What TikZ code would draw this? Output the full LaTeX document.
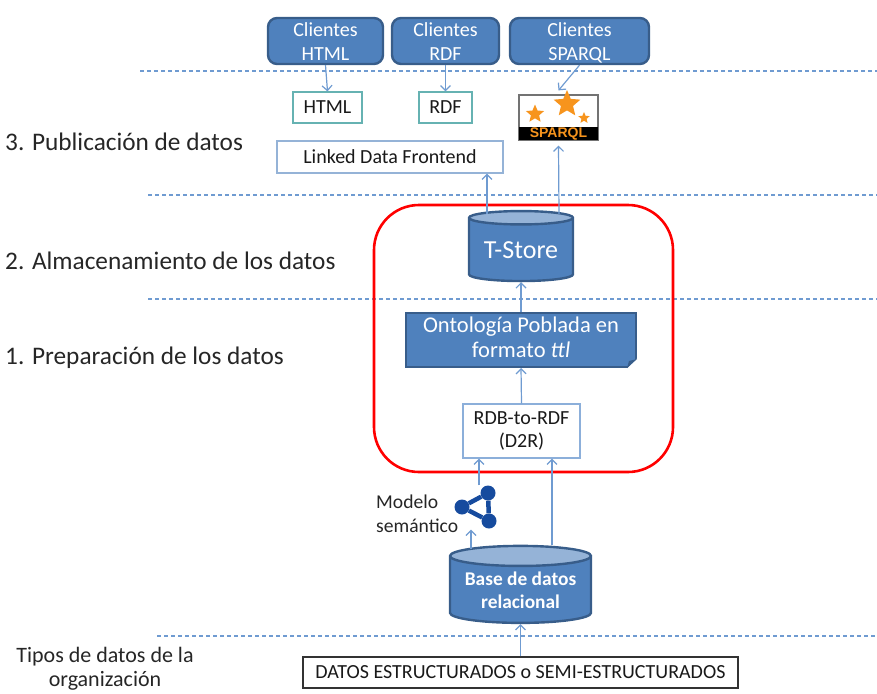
\documentclass[tikz,border=0pt]{standalone}
\usepackage{fontspec}
\setmainfont{Carlito}
\newfontfamily\logofont{Liberation Sans}
\usepackage{tikz}
\usetikzlibrary{arrows.meta,positioning,shapes.geometric,calc}
\definecolor{azul}{HTML}{4F81BD}
\definecolor{azulborde}{HTML}{385D8A}
\definecolor{azulclaro}{HTML}{95B3D7}
\definecolor{flecha}{HTML}{6F9BD1}
\definecolor{estrella}{HTML}{F7941D}
\definecolor{atomo}{HTML}{164B9E}
\tikzset{
  cliente/.style={draw=azulborde,line width=2.4pt,fill=azul,rounded corners=9pt,text=white,
    align=center,inner sep=0pt,font=\fontsize{20}{23}\selectfont,minimum height=46pt},
  formato/.style={draw=#1,line width=1.2pt,fill=white,align=center,inner sep=0pt,
    text=black!90,font=\fontsize{20}{23}\selectfont},
  almacen/.style={cylinder,shape border rotate=90,aspect=0.18,draw=azulborde,line width=2.4pt,
    cylinder uses custom fill,cylinder body fill=azul,cylinder end fill=azulclaro,
    text=white,align=center,inner sep=0pt},
  etapa/.style={anchor=west,inner sep=0pt,text=black!85,font=\fontsize{25.3}{28}\selectfont},
  nota/.style={align=center,inner sep=0pt,text=black!85},
  separador/.style={draw=flecha,line width=1.1pt,dash pattern=on 4pt off 3pt},
  conector/.style={draw=flecha,line width=1.2pt,-{Straight Barb[length=5pt,width=10pt]}},
  bola/.style={circle,fill=atomo,inner sep=0pt,minimum size=15pt}
}
\begin{document}
\begin{tikzpicture}[x=1pt,y=-1pt]
  \useasboundingbox (0,0) rectangle (877,693);
  % lineas de separacion
  \foreach \ini/\alt in {140/71,148/195,148/299,157/636}
    \draw[separador] (\ini,\alt) -- (877,\alt);
  % clientes
  \node[cliente,minimum width=115pt] (clientes html) at (325.5,41) {\raisebox{-8.5pt}[0pt][0pt]{\begin{tabular}{@{}c@{}}Clientes\\[1pt]HTML\end{tabular}}};
  \node[cliente,minimum width=107pt] (clientes rdf) at (445.5,41) {\raisebox{-8.5pt}[0pt][0pt]{\begin{tabular}{@{}c@{}}Clientes\\[1pt]RDF\end{tabular}}};
  \node[cliente,minimum width=139pt] (clientes sparql) at (579.5,41) {\raisebox{-8.5pt}[0pt][0pt]{\begin{tabular}{@{}c@{}}Clientes\\[1pt]SPARQL\end{tabular}}};
  % publicacion
  \node[formato=teal!60,minimum width=69pt,minimum height=31pt] (html) at (327.5,107.5) {HTML};
  \node[formato=teal!60,minimum width=53pt,minimum height=31pt] (rdf) at (445.5,107.5) {RDF};
  \node[formato=azulclaro,minimum width=226pt,minimum height=32pt] (frontend) at (390,157) {Linked Data Frontend};
  % logo sparql
  \node[draw=black!55,line width=1.2pt,fill=white,minimum width=79pt,minimum height=45pt,inner sep=0pt] (sparql) at (558.5,117.5) {};
  \node[fill=black,minimum width=79pt,minimum height=13pt,inner sep=0pt,text=estrella,
    font=\fontsize{14}{14}\logofont\bfseries\selectfont,anchor=south] (sparql texto) at (sparql.south) {SPARQL};
  \node[star,star points=5,star point ratio=2.2,fill=estrella,minimum size=19pt,inner sep=0pt] (estrella a) at (535,114) {};
  \node[star,star points=5,star point ratio=2.2,fill=estrella,minimum size=28pt,inner sep=0pt] (estrella b) at (567,104) {};
  \node[star,star points=5,star point ratio=2.2,fill=estrella,minimum size=12pt,inner sep=0pt] (estrella c) at (584,118) {};
  % caja roja
  \node[draw=red,line width=2.6pt,rounded corners=45pt,minimum width=299pt,minimum height=267pt,inner sep=0pt] (preparacion) at (523.5,338.5) {};
  % almacenamiento
  \node[almacen,minimum width=104pt,minimum height=70pt,font=\fontsize{26}{30}\selectfont] (tstore) at (521,250) {\raisebox{-8pt}[0pt][0pt]{T-Store}};
  \node[fill=azul,draw=azulborde,line width=2pt,minimum width=230pt,minimum height=54pt,inner sep=0pt,
    text=white,align=center] (ontologia) at (521,340) {\raisebox{7pt}{\fontsize{22.5}{26}\selectfont\begin{tabular}{@{}c@{}}Ontología Poblada en\\[-1pt]formato \textit{ttl}\end{tabular}}};
  \fill[white] ($(ontologia.south east)+(1.5,-11)$) -- ($(ontologia.south east)+(1.5,1.5)$) -- ($(ontologia.south east)+(-11,1.5)$) -- cycle;
  \fill[azulborde] ($(ontologia.south east)+(0,-9)$) -- ($(ontologia.south east)+(-10,0)$) -- ($(ontologia.south east)+(-8,-7)$) -- cycle;
  \node[formato=flecha!80,minimum width=117pt,minimum height=54pt] (d2r) at (521.5,431) {RDB-to-RDF\\(D2R)};
  % modelo semantico
  \node[bola] (atomo a) at (462,507) {};
  \node[bola] (atomo b) at (488,493) {};
  \node[bola] (atomo c) at (489,521) {};
  \draw[atomo,line width=4.5pt] (atomo a) -- (atomo b) -- (atomo c) -- (atomo a);
  \node[nota,font=\fontsize{19.6}{24}\selectfont,align=left,anchor=west] (modelo) at (376,513.5) {Modelo\\semántico};
  % base de datos
  \node[almacen,minimum width=141pt,minimum height=77pt,font=\fontsize{19.4}{23}\selectfont\bfseries] (base) at (520.5,590) {\raisebox{-7.5pt}[0pt][0pt]{\begin{tabular}{@{}c@{}}Base de datos\\[-0.5pt]relacional\end{tabular}}};
  \node[formato=black!80,minimum width=435pt,minimum height=31pt] (datos) at (520.5,672.5) {DATOS ESTRUCTURADOS o SEMI-ESTRUCTURADOS};
  % etiquetas
  \node[etapa] (publicacion) at (5,141.5) {3. Publicación de datos};
  \node[etapa] (almacenamiento) at (5,260.5) {2. Almacenamiento de los datos};
  \node[etapa] (preparacion datos) at (5,358) {1. Preparación de los datos};
  \node[nota,font=\fontsize{22}{24}\selectfont] (tipos) at (105,668.5) {Tipos de datos de la\\organización};
  % puntos de salida
  \coordinate (sale frontend) at (tstore.north -| 487,0);
  \coordinate (sale sparql) at (tstore.north -| 559,0);
  \coordinate (sale modelo) at (base.north -| 471,0);
  \coordinate (sale d2r) at (base.north -| 552,0);
  \coordinate (llega frontend) at (frontend.south -| 487,0);
  \coordinate (llega modelo) at (atomo c.south -| 471,0);
  \coordinate (llega d2r a) at (d2r.south -| 479,0);
  \coordinate (llega d2r b) at (d2r.south -| 552,0);
  \coordinate (sale atomo) at (atomo b.north -| 479,0);
  % conectores
  \draw[conector] (clientes html.south) -- (html.north);
  \draw[conector] (clientes rdf.south) -- (rdf.north);
  \draw[conector] (clientes sparql.south) -- ([yshift=4pt]sparql.north);
  \draw[conector] ($(sale frontend)+(0,4)$) -- (llega frontend);
  \draw[conector] ($(sale sparql)+(0,4)$) -- ([yshift=-5pt]sparql.south);
  \draw[conector] (ontologia.north) -- (tstore.south);
  \draw[conector] (d2r.north) -- (ontologia.south);
  \draw[conector] (sale atomo) -- (llega d2r a);
  \draw[conector] (sale d2r) -- (llega d2r b);
  \draw[conector] ($(sale modelo)+(0,4)$) -- ($(llega modelo)+(0,1)$);
  \draw[conector] (datos.north) -- (base.south);
\end{tikzpicture}
\end{document}
